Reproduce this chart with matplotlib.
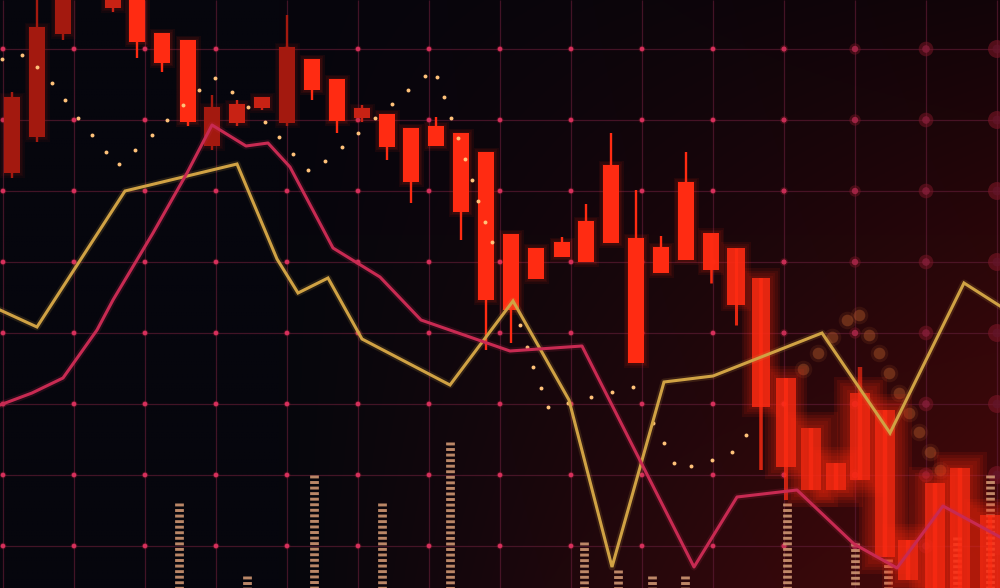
import numpy as np
import matplotlib.pyplot as plt

plt.rcParams['lines.scale_dashes'] = False

# Canvas size in data units (the chart is drawn in screen-like units, y grows down)
W, H = 1000, 588

# Candlesticks: centre, body top/bottom, wick high/low
cx = [12, 37, 63, 113, 137, 162, 188, 212, 237, 262, 287, 312, 337, 362, 387,
      411, 436, 461, 486, 511, 536, 562, 586, 611, 636, 661, 686, 711, 736, 761,
      786, 811, 836, 860, 885, 908, 935, 960, 990]
body_top = [97, 27, 0, 0, 0, 33, 40, 107, 104, 97, 47, 59, 79, 108, 114,
            128, 126, 133, 152, 234, 248, 242, 221, 165, 238, 247, 182, 233, 248, 278,
            378, 428, 463, 393, 410, 540, 483, 468, 515]
body_bot = [173, 137, 34, 8, 42, 63, 122, 146, 123, 108, 123, 90, 121, 118, 147,
            182, 146, 212, 300, 310, 279, 257, 262, 243, 363, 273, 260, 270, 305, 407,
            467, 490, 490, 480, 557, 580, 588, 588, 588]
wick_hi = [92, 0, 0, 0, 0, 33, 40, 95, 100, 97, 15, 59, 79, 105, 114,
           128, 117, 133, 152, 234, 248, 237, 204, 133, 190, 236, 152, 233, 248, 278,
           378, 428, 463, 367, 410, 540, 483, 468, 515]
wick_lo = [178, 142, 40, 12, 58, 72, 126, 150, 126, 110, 126, 100, 133, 122, 160,
           203, 146, 240, 350, 343, 279, 257, 262, 243, 363, 273, 260, 283, 325, 470,
           500, 490, 490, 480, 557, 580, 588, 588, 588]
# tone of each candle: 0 dark, 1 medium, 2 bright
candle_tone = [0, 0, 0, 1, 2, 2, 2, 0, 1, 1, 0, 2, 2, 1, 2,
               2, 2, 2, 2, 2, 2, 2, 2, 2, 2, 2, 2, 2, 2, 2,
               2, 2, 2, 2, 2, 2, 2, 2, 2]

# Gold line
gold_x = [0, 37, 125, 237, 277, 298, 328, 362, 450, 513, 569, 612, 664, 713, 822, 890, 964, 1000]
gold_y = [310, 327, 191, 164, 259, 293, 278, 339, 385, 301, 400, 567, 382, 376, 333, 433, 283, 306]

# Crimson line
crim_x = [0, 32, 63, 97, 113, 153, 187, 212, 246, 268, 290, 333, 380, 421, 510, 582,
          694, 737, 797, 854, 897, 943, 1000]
crim_y = [405, 393, 378, 330, 300, 233, 173, 125, 146, 143, 167, 248, 277, 320, 351, 346,
          567, 497, 490, 544, 568, 506, 537]

# Small dotted trail
dot_x = [2, 22, 37, 52, 65, 78, 92, 106, 119, 135, 152, 167, 183, 199, 215, 232, 248, 265,
         279, 293, 308, 325, 342, 358, 375, 392, 408, 425, 437, 444, 451, 458, 465, 472,
         478, 485, 492, 520, 527, 533, 541, 548, 568, 591, 612, 633, 653, 664, 674, 691,
         712, 732, 746]
dot_y = [59, 55, 67, 83, 100, 118, 135, 152, 164, 150, 135, 120, 105, 90, 78, 92, 107, 122,
         137, 154, 170, 161, 147, 133, 118, 104, 90, 76, 77, 97, 118, 138, 159, 180,
         201, 222, 242, 325, 347, 367, 388, 407, 403, 397, 392, 387, 423, 443, 463, 466,
         460, 452, 435]

# Out-of-focus dots on the right
bokeh_x = [803, 818, 832, 847, 859, 869, 879, 889, 899, 909, 919, 930, 940]
bokeh_y = [369, 353, 337, 320, 315, 335, 353, 373, 393, 413, 432, 452, 470]

# Volume bars (x, top)
vol_x = [179, 247, 314, 382, 450, 584, 618, 652, 685, 787, 855, 888, 957, 990]
vol_top = [503, 576, 475, 503, 442, 542, 570, 576, 576, 503, 543, 559, 537, 475]

fig = plt.figure(figsize=(10, 5.88), dpi=100)
ax = fig.add_axes([0, 0, 1, 1])
ax.set_xlim(0, W)
ax.set_ylim(H, 0)
ax.axis('off')

# background: near black on the left, dark maroon towards bottom right
X, Y = np.meshgrid(np.linspace(0, W, 400), np.linspace(0, H, 240))
t = np.clip((X - 280) / 720, 0, 1) ** 1.1
v = Y / H
bg = np.dstack([6 + t * (12 + 58 * v), 6 + t * (-2 + 5 * v), 13 - t * (5 - 2 * v)]) / 255
ax.imshow(np.clip(bg, 0, 1), extent=(0, W, H, 0), aspect='auto', zorder=0)

# grid
grid_x = np.arange(3, W + 1, 71.0)
grid_y = np.arange(49, H, 71.0)
ax.vlines(grid_x, 0, H, color='#5c1a32', lw=0.9, alpha=0.7, zorder=1)
ax.hlines(grid_y, 0, W, color='#5c1a32', lw=0.9, alpha=0.7, zorder=1)
gx, gy = np.meshgrid(grid_x, grid_y)
gx, gy = gx.ravel(), gy.ravel()
blur = np.clip((gx - 760) / 240, 0, 1)
ax.scatter(gx, gy, s=(5 + 8 * blur) ** 2, c='#7a1626', alpha=0.35 + 0.25 * blur, lw=0, zorder=2)
cols = np.array([[0.84, 0.19, 0.36]] * len(gx))
cols = cols * (1 - 0.55 * blur[:, None])
ax.scatter(gx, gy, s=(3.4 + 3 * blur) ** 2, c=cols, alpha=1 - 0.3 * blur, lw=0, zorder=2)

# bokeh
ax.scatter(bokeh_x, bokeh_y, s=70, c='#a85228', alpha=0.45, lw=0, zorder=2)
ax.scatter(bokeh_x, bokeh_y, s=160, c='#a85228', alpha=0.15, lw=0, zorder=2)

# volume bars as stacked dashes
ax.vlines(vol_x, vol_top, H, colors='#cf9672', lw=6.3, linestyles=(0, (2.1, 1.9)),
          alpha=0.9, zorder=3)

# candles
tones = {0: '#a3190f', 1: '#c82214', 2: '#ff2b12'}
for x, bt, bb, wh, wl, tn in zip(cx, body_top, body_bot, wick_hi, wick_lo, candle_tone):
    col = tones[tn]
    b = float(np.clip((x - 700) / 110, 0, 1))
    w = 16 + 4 * b
    g = 1.5 + 1.8 * b
    nl = 3 + int(2 * b)
    for k in range(nl, 0, -1):
        ax.bar(x, bb - bt + 2 * k * g, bottom=bt - k * g, width=w + 2 * k * g,
               color=col, alpha=0.07 + 0.03 * b, lw=0, zorder=4)
    ax.vlines(x, wh, wl, color=col, lw=1.7 + 1.5 * b, alpha=1 - 0.35 * b, zorder=4)
    ax.bar(x, bb - bt, bottom=bt, width=w, color=col, alpha=1 - 0.3 * b, lw=0, zorder=5)

# dotted trail
ax.scatter(dot_x, dot_y, s=8, c='#ffc27a', lw=0, zorder=6)

# lines
ax.plot(gold_x, gold_y, color='#d0a244', lw=5, alpha=0.15, zorder=6)
ax.plot(gold_x, gold_y, color='#d0a244', lw=2.2, zorder=7, solid_joinstyle='miter')
ax.plot(crim_x, crim_y, color='#c82a52', lw=5, alpha=0.15, zorder=6)
ax.plot(crim_x, crim_y, color='#c82a52', lw=2.2, zorder=7)

fig.savefig('out.png', dpi=100, facecolor='black')
